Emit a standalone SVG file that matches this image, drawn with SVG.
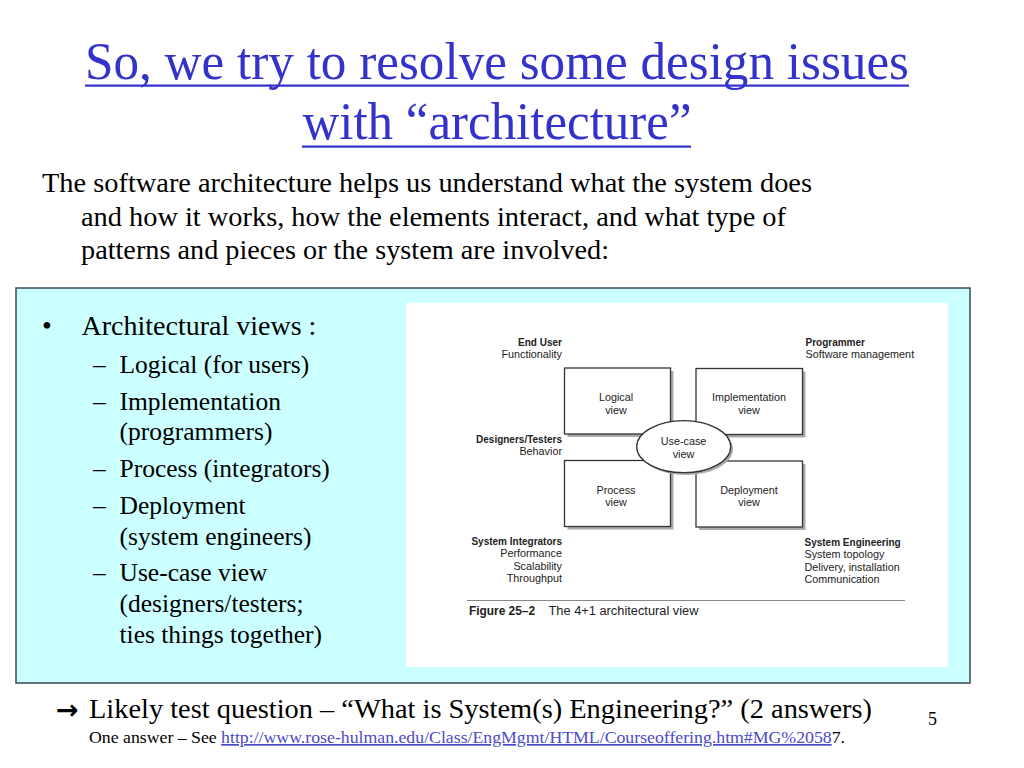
<svg xmlns="http://www.w3.org/2000/svg" width="1024" height="768" viewBox="0 0 1024 768">
<defs>
<style>
.serif{font-family:"Liberation Serif","Times New Roman",serif;fill:#000}
.title{font-family:"Liberation Serif","Times New Roman",serif;fill:#3333CC;font-size:52px}
.sans{font-family:"Liberation Sans",Arial,sans-serif;fill:#222}
.lbl{font-size:10.8px}
.lblb{font-size:10px;font-weight:bold}
.box{fill:#fff;stroke:#333;stroke-width:1.3}
.shadow{fill:#aaa}
</style>
</defs>
<rect width="1024" height="768" fill="#fff"/>

<!-- title -->
<g id="title">
<text class="title" x="497" y="79" text-anchor="middle" textLength="824" lengthAdjust="spacingAndGlyphs">So, we try to resolve some design issues</text>
<rect x="85" y="84.5" width="824" height="2.2" fill="#3333CC"/>
<text class="title" x="497" y="139" text-anchor="middle" textLength="389" lengthAdjust="spacingAndGlyphs">with “architecture”</text>
<rect x="302" y="145.5" width="389" height="2.2" fill="#3333CC"/>
</g>

<!-- intro paragraph -->
<g id="intro">
<text class="serif" x="42" y="192" font-size="27.5" textLength="770" lengthAdjust="spacingAndGlyphs">The software architecture helps us understand what the system does</text>
<text class="serif" x="81" y="226" font-size="27.5" textLength="705" lengthAdjust="spacingAndGlyphs">and how it works, how the elements interact, and what type of</text>
<text class="serif" x="81" y="259" font-size="27.5" textLength="528" lengthAdjust="spacingAndGlyphs">patterns and pieces or the system are involved:</text>
</g>

<!-- content box -->
<g id="content-box">
<rect x="16" y="288" width="954" height="395" fill="#CCFFFF" stroke="#3a4a55" stroke-width="1.5"/>
<rect x="406" y="303" width="542" height="364" fill="#fff"/>
</g>

<!-- bullets -->
<g id="bullets">
<text class="serif" x="42" y="335" font-size="28">•</text>
<text class="serif" x="81.5" y="335" font-size="28">Architectural views :</text>
<text class="serif" x="93" y="373" font-size="25.5">–</text>
<text class="serif" x="119.5" y="373" font-size="25.5">Logical (for users)</text>
<text class="serif" x="93" y="410" font-size="25.5">–</text>
<text class="serif" x="119.5" y="410" font-size="25.5">Implementation</text>
<text class="serif" x="119.5" y="440" font-size="25.5">(programmers)</text>
<text class="serif" x="93" y="477" font-size="25.5">–</text>
<text class="serif" x="119.5" y="477" font-size="25.5">Process (integrators)</text>
<text class="serif" x="93" y="514" font-size="25.5">–</text>
<text class="serif" x="119.5" y="514" font-size="25.5">Deployment</text>
<text class="serif" x="119.5" y="545" font-size="25.5">(system engineers)</text>
<text class="serif" x="93" y="581" font-size="25.5">–</text>
<text class="serif" x="119.5" y="581" font-size="25.5">Use-case view</text>
<text class="serif" x="119.5" y="612" font-size="25.5">(designers/testers;</text>
<text class="serif" x="119.5" y="643" font-size="25.5">ties things together)</text>
</g>

<!-- figure labels -->
<g id="label-end-user">
<text class="sans lblb" x="562" y="346" text-anchor="end">End User</text>
<text class="sans lbl" x="562" y="358" text-anchor="end">Functionality</text>
</g>
<g id="label-programmer">
<text class="sans lblb" x="805.5" y="346">Programmer</text>
<text class="sans lbl" x="805.5" y="358">Software management</text>
</g>
<g id="label-designers">
<text class="sans lblb" x="562" y="442.5" text-anchor="end">Designers/Testers</text>
<text class="sans lbl" x="562" y="455" text-anchor="end">Behavior</text>
</g>
<g id="label-integrators">
<text class="sans lblb" x="562" y="545" text-anchor="end">System Integrators</text>
<text class="sans lbl" x="562" y="557.3" text-anchor="end">Performance</text>
<text class="sans lbl" x="562" y="569.7" text-anchor="end">Scalability</text>
<text class="sans lbl" x="562" y="582" text-anchor="end">Throughput</text>
</g>
<g id="label-sysengineering">
<text class="sans lblb" x="804.5" y="546">System Engineering</text>
<text class="sans lbl" x="804.5" y="558.3">System topology</text>
<text class="sans lbl" x="804.5" y="570.6">Delivery, installation</text>
<text class="sans lbl" x="804.5" y="583">Communication</text>
</g>

<!-- view nodes -->
<g id="node-logical">
<rect class="shadow" x="567.5" y="371" width="106" height="66"/>
<rect class="box" x="564.5" y="368" width="106" height="66"/>
<text class="sans lbl" x="616" y="401" text-anchor="middle">Logical</text>
<text class="sans lbl" x="616" y="413.5" text-anchor="middle">view</text>
</g>
<g id="node-implementation">
<rect class="shadow" x="699" y="371.5" width="106.5" height="66"/>
<rect class="box" x="696" y="368.5" width="106.5" height="66"/>
<text class="sans lbl" x="749" y="401" text-anchor="middle">Implementation</text>
<text class="sans lbl" x="749" y="413.5" text-anchor="middle">view</text>
</g>
<g id="node-process">
<rect class="shadow" x="567.5" y="463.5" width="106" height="66"/>
<rect class="box" x="564.5" y="460.5" width="106" height="66"/>
<text class="sans lbl" x="616" y="493.5" text-anchor="middle">Process</text>
<text class="sans lbl" x="616" y="506" text-anchor="middle">view</text>
</g>
<g id="node-deployment">
<rect class="shadow" x="699" y="464" width="106.5" height="66"/>
<rect class="box" x="696" y="461" width="106.5" height="66"/>
<text class="sans lbl" x="749" y="493.5" text-anchor="middle">Deployment</text>
<text class="sans lbl" x="749" y="506" text-anchor="middle">view</text>
</g>
<g id="node-usecase">
<ellipse class="shadow" cx="686" cy="449" rx="47" ry="26"/>
<ellipse class="box" cx="683.7" cy="446.7" rx="47" ry="26"/>
<text class="sans lbl" x="683.5" y="445" text-anchor="middle">Use-case</text>
<text class="sans lbl" x="683.5" y="457.5" text-anchor="middle">view</text>
</g>

<g id="connectors"></g>

<!-- caption -->
<g id="caption">
<line x1="467" y1="600.5" x2="905" y2="600.5" stroke="#888" stroke-width="1.2"/>
<text class="sans" x="469" y="614.5" font-size="12" font-weight="bold" textLength="66" lengthAdjust="spacingAndGlyphs">Figure 25–2</text>
<text class="sans" x="548.5" y="614.5" font-size="12.5" textLength="150" lengthAdjust="spacingAndGlyphs">The 4+1 architectural view</text>
</g>

<!-- footer -->
<g id="footer">
<text x="56" y="719" font-family="DejaVu Sans, sans-serif" font-size="27" font-weight="bold" fill="#000">→</text>
<text class="serif" x="89" y="718" font-size="27.5" textLength="783" lengthAdjust="spacingAndGlyphs">Likely test question – “What is System(s) Engineering?” (2 answers)</text>
<text class="serif" x="928" y="725" font-size="18">5</text>
<text class="serif" x="89" y="743" font-size="17" textLength="756" lengthAdjust="spacingAndGlyphs">One answer – See <tspan fill="#4B4BC8" text-decoration="underline">http://www.rose-hulman.edu/Class/EngMgmt/HTML/Courseoffering.htm#MG%2058</tspan>7.</text>
</g>
</svg>
